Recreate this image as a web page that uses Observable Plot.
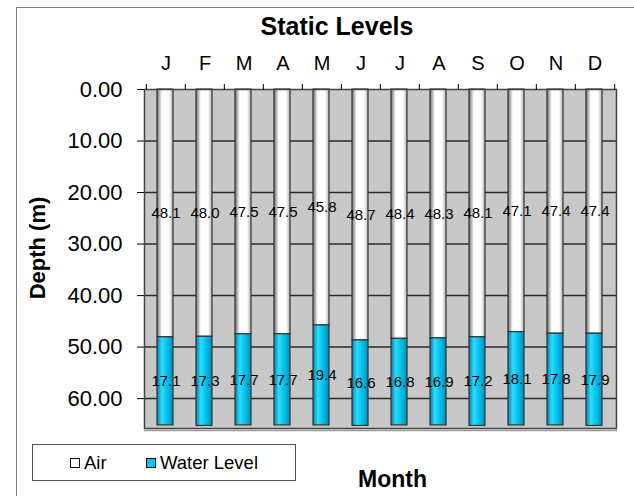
<!DOCTYPE html>
<html><head><meta charset="utf-8">
<script src="https://cdn.jsdelivr.net/npm/d3@7"></script>
<script src="https://cdn.jsdelivr.net/npm/@observablehq/plot@0.6"></script>
<style>
body{margin:0;background:#fff;font-family:"Liberation Sans",Arial,sans-serif;color:#000;}
#wrap{position:relative;width:634px;height:496px;overflow:hidden;}
#border{position:absolute;left:16px;top:7px;width:700px;height:600px;border:1px solid #808080;}
#title{position:absolute;left:0;width:674px;top:11px;text-align:center;font-weight:bold;font-size:25px;line-height:30px;}
#chart{position:absolute;left:0;top:40px;}
#legend{position:absolute;left:32px;top:444px;width:262px;height:35px;border:1px solid #555;background:#fff;}
.sw{position:absolute;top:13px;width:8px;height:8px;border:1.5px solid #000;}
.lt{position:absolute;top:6px;font-size:18.5px;line-height:24px;white-space:nowrap;}
#xlabel{position:absolute;left:358px;top:465px;font-weight:bold;font-size:23px;line-height:28px;}
</style></head>
<body>
<div id="wrap">
  <div id="border"></div>
  <div id="title">Static Levels</div>
  <div id="chart"></div>
  <div id="legend">
    <div class="sw" style="left:37px;background:#fff;"></div><div class="lt" style="left:51px;">Air</div>
    <div class="sw" style="left:113px;background:#00c8f0;"></div><div class="lt" style="left:127px;">Water Level</div>
  </div>
  <div id="xlabel">Month</div>
</div>
<script>
const months = ["Jan","Feb","Mar","Apr","May","Jun","Jul","Aug","Sep","Oct","Nov","Dec"];
const monthLetters = ["J","F","M","A","M","J","J","A","S","O","N","D"];
const air = [48.1, 48.0, 47.5, 47.5, 45.8, 48.7, 48.4, 48.3, 48.1, 47.1, 47.4, 47.4];
const water = [17.1, 17.3, 17.7, 17.7, 19.4, 16.6, 16.8, 16.9, 17.2, 18.1, 17.8, 17.9];
const yTicks = [0, 10, 20, 30, 40, 50, 60];

const rows = months.map((m, i) => ({month: m, letter: monthLetters[i], air: air[i], water: water[i]}));

const W = 634, ML = 144, MR = 18;
const bw = (W - ML - MR) / months.length;

const plot = Plot.plot({
  width: W, height: 400,
  marginLeft: ML, marginRight: MR, marginTop: 49, marginBottom: 12,
  style: {fontFamily: "Liberation Sans, Arial, sans-serif", background: "transparent", color: "#000"},
  x: {domain: months, padding: 0, axis: null},
  y: {domain: [0, 65.8], reverse: true, axis: null},
  marks: [
    Plot.frame({fill: "#c8c8c8"}),
    Plot.gridY(yTicks.slice(1), {stroke: "#2a2a2a", strokeOpacity: 1, strokeWidth: 1.5}),
    Plot.barY(rows, {x: "month", y1: 0, y2: "air", fill: "url(#gAir)", stroke: "#333", strokeWidth: 1.2, insetLeft: 11, insetRight: 12}),
    Plot.barY(rows, {x: "month", y1: "air", y2: d => d.air + d.water, fill: "url(#gWater)", stroke: "#333", strokeWidth: 1.2, insetLeft: 11, insetRight: 12}),
    Plot.frame({anchor: "bottom", stroke: "#9a9a9a", strokeWidth: 1.5, dy: 2}),
    Plot.frame({stroke: "#444", strokeWidth: 1.5}),
    Plot.axisY(yTicks, {tickSize: 7, tickPadding: 15, tickFormat: d3.format(".2f"), fontSize: 22, label: null}),
    Plot.axisX(months, {anchor: "top", tickSize: 6, tickFormat: () => "", dx: -bw / 2, label: null}),
    Plot.axisX(["Dec"], {anchor: "top", tickSize: 6, tickFormat: () => "", dx: bw / 2, label: null}),
    Plot.text(rows, {x: "month", text: "letter", frameAnchor: "top", dy: -26, fontSize: 20, lineAnchor: "middle"}),
    Plot.text(rows, {x: "month", y: d => d.air / 2, text: d => d.air.toFixed(1), fontSize: 15}),
    Plot.text(rows, {x: "month", y: d => d.air + d.water / 2, text: d => d.water.toFixed(1), fontSize: 15}),
    Plot.text(["Depth (m)"], {frameAnchor: "left", textAnchor: "middle", rotate: -90, dx: -107, dy: -11, fontSize: 22, fontWeight: "bold"})
  ]
});

const defs = d3.select(plot).insert("defs", ":first-child");
function grad(id, stops) {
  const g = defs.append("linearGradient").attr("id", id).attr("x1", "0").attr("x2", "1").attr("y1", "0").attr("y2", "0");
  stops.forEach(([o, c]) => g.append("stop").attr("offset", o).attr("stop-color", c));
}
grad("gAir", [["0", "#6e6e6e"], ["0.3", "#ffffff"], ["0.75", "#ffffff"], ["1", "#b0b0b0"]]);
grad("gWater", [["0", "#007fa6"], ["0.3", "#30dcff"], ["0.6", "#00c4ee"], ["1", "#0090bc"]]);

document.getElementById("chart").appendChild(plot);
</script>
</body></html>
